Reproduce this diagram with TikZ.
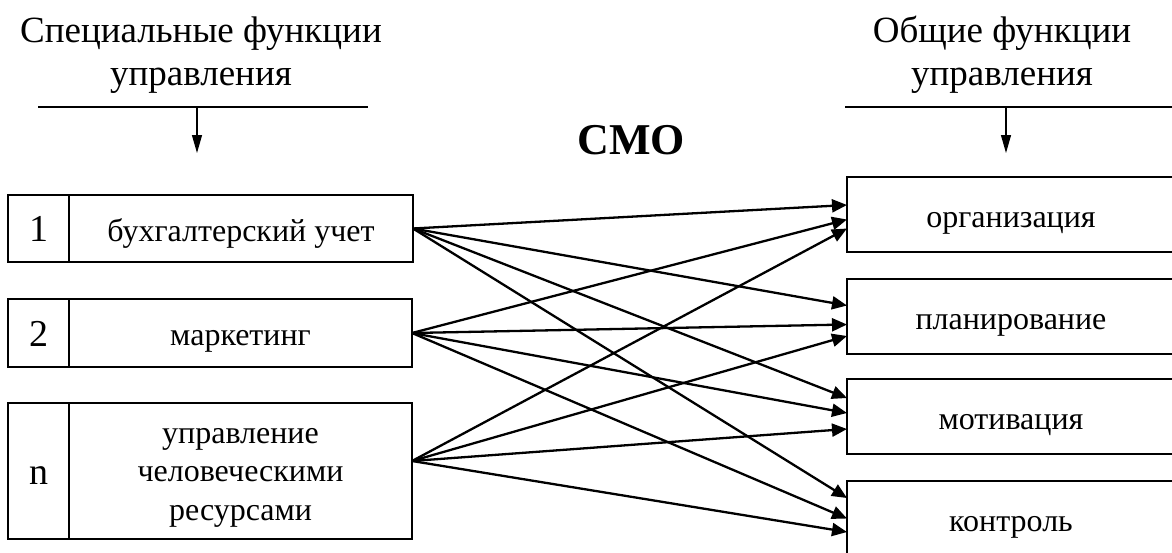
\documentclass[tikz,border=0pt]{standalone}
\usepackage{fontspec}
\setmainfont{Liberation Serif}
\usetikzlibrary{positioning,arrows.meta}

\begin{document}
\begin{tikzpicture}[x=1pt, y=-1pt,
	box/.style={draw, line width=2pt, outer sep=0pt, inner sep=0pt, align=center, text height=25pt, text depth=0pt, font=\fontsize{32}{38.5}\selectfont},
	numbox/.style={box, minimum width=61pt, text height=26pt, font=\fontsize{38}{44}\selectfont},
	funbox/.style={box, minimum width=328pt, minimum height=75pt},
	hd/.style={align=center, inner sep=0pt, font=\fontsize{37}{43}\selectfont},
	bar/.style={line width=2pt},
	down/.style={line width=1.2pt, -{Triangle[length=18pt, width=10pt]}},
	conn/.style={line width=2.3pt, -{Triangle[length=15pt, width=13pt]}}]
	\useasboundingbox (0,0) rectangle (1172,552);
	\clip (0,0) rectangle (1172,552);

	\node[hd] (spec) at (201,55) {Специальные функции\\управления};
	\node[hd] (gen) at (1002,55) {Общие функции\\управления};
	\node[font=\bfseries\fontsize{44}{50}\selectfont, inner sep=0pt] (smo) at (631,140) {СМО};

	\draw[bar] (38,107) -- (368,107);
	\draw[bar] (845,107) -- (1172,107);
	\coordinate (sbar) at (197,107);
	\coordinate (stip) at (197,153);
	\coordinate (gbar) at (1006,107);
	\coordinate (gtip) at (1006,153);
	\draw[down] (sbar) -- (stip);
	\draw[down] (gbar) -- (gtip);

	\node[numbox, minimum height=67pt, anchor=north west] (n1) at (8,195) {1};
	\node[box, minimum width=344pt, minimum height=67pt, right=0pt of n1] (l1) {бухгалтерский учет};
	\node[numbox, minimum height=68pt, below=37pt of n1] (n2) {2};
	\node[box, minimum width=343pt, minimum height=68pt, right=0pt of n2] (l2) {маркетинг};
	\node[numbox, minimum height=136pt, below=36pt of n2] (nn) {n};
	\node[box, minimum width=343pt, minimum height=136pt, text height=98pt, right=0pt of nn] (ln) {управление\\человеческими\\ресурсами};

	\node[funbox, anchor=north west] (org) at (847,177) {организация};
	\node[funbox, below=27pt of org] (plan) {планирование};
	\node[funbox, below=25pt of plan] (motiv) {мотивация};
	\node[funbox, below=27pt of motiv] (ctrl) {контроль};

	\coordinate (sn) at ([yshift=10pt]ln.east);

	\draw[conn] (l1.east) -- ([yshift=9.5pt]org.west);
	\draw[conn] (l1.east) -- ([yshift=11pt]plan.west);
	\draw[conn] (l1.east) -- ([yshift=18.5pt]motiv.west);
	\draw[conn] (l1.east) -- ([yshift=20.5pt]ctrl.west);

	\draw[conn] (l2.east) -- ([yshift=-5pt]org.west);
	\draw[conn] (l2.east) -- ([yshift=-8pt]plan.west);
	\draw[conn] (l2.east) -- ([yshift=3.5pt]motiv.west);
	\draw[conn] (l2.east) -- (ctrl.west);

	\draw[conn] (sn) -- ([yshift=-14pt]org.west);
	\draw[conn] (sn) -- ([yshift=-19.5pt]plan.west);
	\draw[conn] (sn) -- ([yshift=-12.5pt]motiv.west);
	\draw[conn] (sn) -- ([yshift=-13.5pt]ctrl.west);
\end{tikzpicture}
\end{document}
